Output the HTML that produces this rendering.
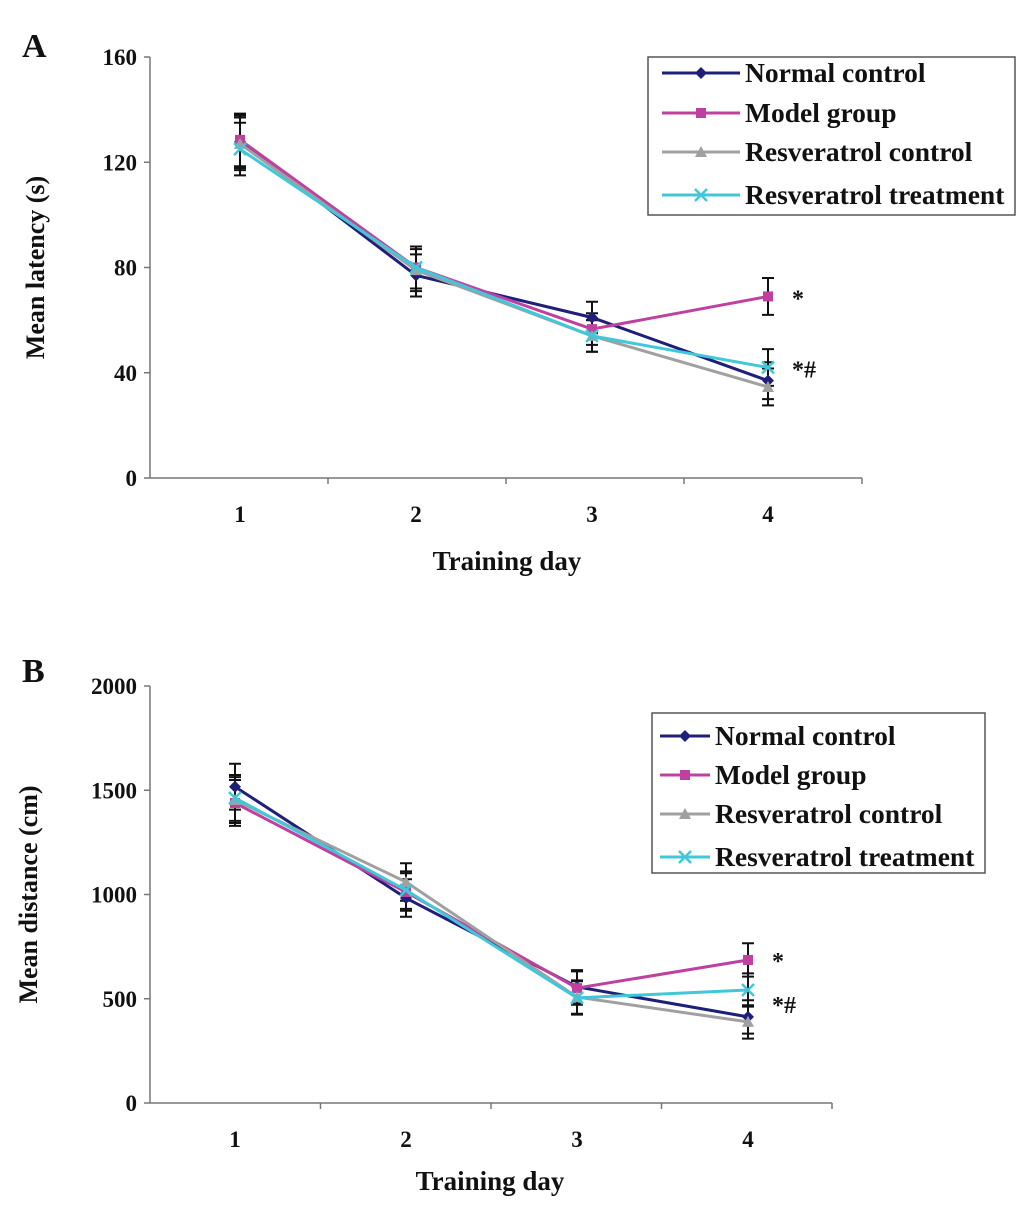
<!DOCTYPE html>
<html><head><meta charset="utf-8"><style>
body{margin:0;background:#fff;}
svg text{font-family:"Liberation Serif",serif;font-weight:bold;fill:#111;}
</style></head><body>
<svg id="s" width="1033" height="1203"></svg>
<script>
const categories=["1","2","3","4"];
const seriesNames=["Normal control","Model group","Resveratrol control","Resveratrol treatment"];
const latencyNormal=[127.8,77,61,37];
const latencyModel=[128.5,80,56.6,69];
const latencyResC=[127,79,54,34.6];
const latencyResT=[125,80,54,42];
const latencyErr=[10,8,6,7];
const latencyTicks=[0,40,80,120,160];
const distNormal=[1517,983,557,413];
const distModel=[1439,1012,551,686];
const distResC=[1453,1060,508,389];
const distResT=[1463,1021,504,542];
const distErr=[110,90,80,80];
const distTicks=[0,500,1000,1500,2000];
const colors=["#1f1f7a","#c040a0","#a0a0a0","#40c8d8"];

const NS="http://www.w3.org/2000/svg";
const svg=document.getElementById('s');
function mk(tag,attrs,parent,text){const e=document.createElementNS(NS,tag);for(const k in attrs)e.setAttribute(k,attrs[k]);if(text!==undefined)e.textContent=text;(parent||svg).appendChild(e);return e;}

function panel(cfg){
  const g=mk('g',{});
  
  
  const ys=v=>cfg.y0-(v/cfg.max)*(cfg.y0-cfg.yTop);
  const xs=i=>cfg.xStart+i*cfg.xStep;
  const ya=mk('line',{x1:150,y1:cfg.yTop,x2:150,y2:cfg.y0,stroke:'#777','stroke-width':1.5},g);
  
  const xa=mk('line',{x1:150,y1:cfg.y0,x2:cfg.xEnd,y2:cfg.y0,stroke:'#777','stroke-width':1.5},g);
  
  cfg.ticks.forEach(t=>{
    mk('line',{x1:144,y1:ys(t),x2:150,y2:ys(t),stroke:'#777','stroke-width':1.5},g);
    const tl=mk('text',{x:137,y:ys(t)+8,'text-anchor':'end','font-size':23},g,String(t));
    
  });
  for(let i=1;i<=4;i++){const bx=150+i*(cfg.xEnd-150)/4;mk('line',{x1:bx,y1:cfg.y0,x2:bx,y2:cfg.y0+6,stroke:'#777','stroke-width':1.5},g);}
  categories.forEach((c,i)=>{
    const tl=mk('text',{x:xs(i),y:cfg.y0+44,'text-anchor':'middle','font-size':23},g,c);
    
  });
  const xt=mk('text',{x:cfg.xTitleX,y:cfg.xTitleY,'text-anchor':'middle','font-size':27},g,'Training day');
  
  const yt=mk('text',{x:0,y:0,'text-anchor':'middle','font-size':26,transform:`translate(${cfg.yTitleX},${(cfg.yTop+cfg.y0)/2}) rotate(-90)`},g,cfg.yTitle);
  
  const pl=mk('text',{x:22,y:cfg.letterY,'font-size':34},g,cfg.letter);
  
  cfg.series.forEach((s,si)=>{
    s.forEach((v,i)=>{
      const x=xs(i),e=cfg.err[i];
      const eb=mk('path',{d:`M${x},${ys(v-e)}V${ys(v+e)}M${x-6},${ys(v-e)}H${x+6}M${x-6},${ys(v+e)}H${x+6}`,stroke:'#111','stroke-width':2,fill:'none'},g);
      
    });
  });
  cfg.series.forEach((s,si)=>{
    const pts=s.map((v,i)=>xs(i)+','+ys(v)).join(' ');
    const pl2=mk('polyline',{points:pts,fill:'none',stroke:colors[si],'stroke-width':3},g);
    
    s.forEach((v,i)=>{const m=marker(si,xs(i),ys(v),g);});
  });
  cfg.stars.forEach(st=>{
    const t=mk('text',{x:cfg.starX,y:ys(st.v)+10,'font-size':24,'font-weight':'normal'},g,st.t);
    
  });
  const lg=mk('g',{},g);
  
  mk('rect',{x:cfg.lx,y:cfg.ly,width:cfg.lw,height:cfg.lh,fill:'#fff',stroke:'#555','stroke-width':1.5},lg);
  seriesNames.forEach((n,i)=>{
    const yy=cfg.ly+cfg.lOff[i];
    const le=mk('g',{},lg);
    
    mk('line',{x1:cfg.lx+cfg.l1,y1:yy,x2:cfg.lx+cfg.l2,y2:yy,stroke:colors[i],'stroke-width':3},le);
    marker(i,cfg.lx+(cfg.l1+cfg.l2)/2,yy,le);
    mk('text',{x:cfg.lx+cfg.l2+5,y:yy+9,'font-size':27.5},le,n);
  });
}
function marker(si,x,y,g){
  const c=colors[si];
  if(si===0)return mk('path',{d:`M${x},${y-6}L${x+6},${y}L${x},${y+6}L${x-6},${y}Z`,fill:c},g);
  if(si===1)return mk('rect',{x:x-5,y:y-5,width:10,height:10,fill:c},g);
  if(si===2)return mk('path',{d:`M${x},${y-6}L${x+6},${y+5}L${x-6},${y+5}Z`,fill:c},g);
  return mk('path',{d:`M${x-6},${y-6}L${x+6},${y+6}M${x+6},${y-6}L${x-6},${y+6}`,stroke:c,'stroke-width':2.5},g);
}
panel({name:'chart-a',letter:'A',letterY:57,yTop:57,y0:478,max:160,ticks:latencyTicks,xStart:240,xStep:176,xEnd:862,
  series:[latencyNormal,latencyModel,latencyResC,latencyResT],err:latencyErr,yTitle:'Mean latency (s)',yTitleX:44,
  xTitleX:507,xTitleY:570,stars:[{v:69,t:'*'},{v:42,t:'*#'}],starX:792,
  lx:648,ly:57,lw:367,lh:158,lOff:[16,56,95,138],l1:14,l2:92});
panel({name:'chart-b',letter:'B',letterY:682,yTop:686,y0:1103,max:2000,ticks:distTicks,xStart:235,xStep:171,xEnd:832,
  series:[distNormal,distModel,distResC,distResT],err:distErr,yTitle:'Mean distance (cm)',yTitleX:37,
  xTitleX:490,xTitleY:1190,stars:[{v:690,t:'*'},{v:480,t:'*#'}],starX:772,
  lx:652,ly:713,lw:333,lh:160,lOff:[23,62,101,144],l1:8,l2:58});
</script>
</body></html>
